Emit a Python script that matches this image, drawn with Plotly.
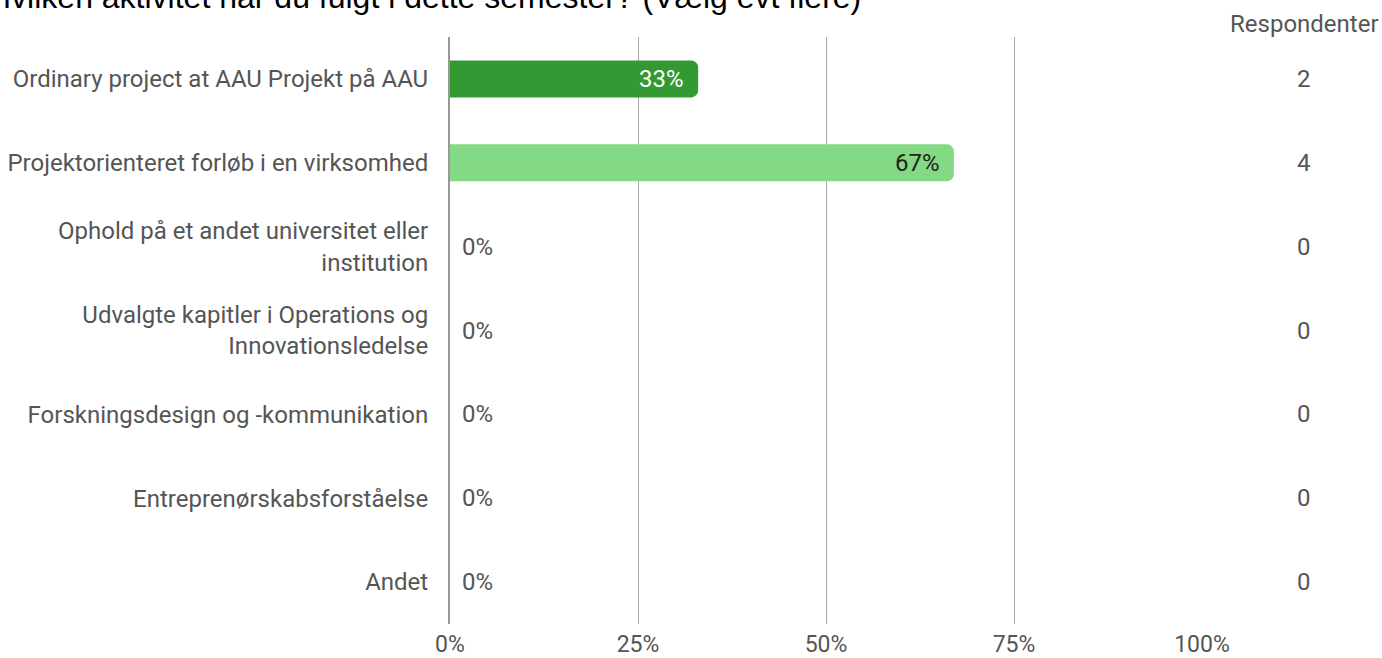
import plotly.graph_objects as go

categories = [
    "Ordinary project at AAU Projekt på AAU",
    "Projektorienteret forløb i en virksomhed",
    "Ophold på et andet universitet eller<br>institution",
    "Udvalgte kapitler i Operations og<br>Innovationsledelse",
    "Forskningsdesign og -kommunikation",
    "Entreprenørskabsforståelse",
    "Andet",
]
percent = [33, 67, 0, 0, 0, 0, 0]
respondents = [2, 4, 0, 0, 0, 0, 0]
bar_colors = ["#339933", "#84d984", "#84d984", "#84d984", "#84d984", "#84d984", "#84d984"]
text_colors = ["#ffffff", "#222222"]
tick_vals = [0, 25, 50, 75, 100]
tick_text = ["0%", "25%", "50%", "75%", "100%"]
title_text = "Hvilken aktivitet har du fulgt i dette semester? (Vælg evt flere)"

W, H = 1382, 658
L, R, T, B = 450, 180, 37, 34
pw = W - L - R
ph = H - T - B
FS = 24
GREY = "#555555"

fig = go.Figure()
fig.add_trace(go.Bar(
    y=categories, x=percent, orientation="h",
    marker=dict(color=bar_colors, line=dict(width=0)),
    width=0.44, hoverinfo="skip",
))

ann = []
for i, (c, p, r) in enumerate(zip(categories, percent, respondents)):
    if p > 0:
        ann.append(dict(x=p, y=c, xref="x", yref="y", text=f"{p}%", showarrow=False,
                        xanchor="right", xshift=-12,
                        font=dict(family="Roboto", size=FS, color=text_colors[i] if i < len(text_colors) else "#222")))
    else:
        ann.append(dict(x=p, y=c, xref="x", yref="y", text=f"{p}%", showarrow=False,
                        xanchor="left", xshift=10,
                        font=dict(family="Roboto", size=FS, color=GREY)))
    ann.append(dict(x=(1304 - L) / pw, y=c, xref="paper", yref="y", text=str(r), showarrow=False,
                    xanchor="center", font=dict(family="Roboto", size=FS, color=GREY)))

ann.append(dict(x=(1304 - L) / pw, y=1 + (T - 24) / ph, xref="paper", yref="paper", text="Respondenter",
                showarrow=False, xanchor="center", yanchor="middle",
                font=dict(family="Roboto", size=FS, color=GREY)))
ann.append(dict(x=(-14 - L) / pw, y=1 + (T + 3) / ph, xref="paper", yref="paper", text=title_text,
                showarrow=False, xanchor="left", yanchor="middle",
                font=dict(family="Liberation Sans, Arial", size=32, color="#000000")))

fig.update_layout(
    width=W, height=H,
    margin=dict(l=L, r=R, t=T, b=B, autoexpand=False),
    paper_bgcolor="white", plot_bgcolor="white",
    showlegend=False,
    barcornerradius=7,
    annotations=ann,
    font=dict(family="Roboto", size=FS, color=GREY),
)
fig.update_xaxes(range=[0, 100], tickvals=tick_vals, ticktext=tick_text,
                 showgrid=True, gridcolor="#aaaaaa", gridwidth=1, zeroline=False,
                 showline=False, ticks="", ticklabelstandoff=4, fixedrange=True,
                 tickfont=dict(family="Roboto", size=23, color=GREY))
fig.update_yaxes(autorange="reversed", showgrid=False, showline=True, linecolor="#999999",
                 linewidth=2, ticks="", ticklabelstandoff=15, fixedrange=True,
                 tickfont=dict(family="Roboto", size=FS, color=GREY))

fig.write_html("out.html", config={"displayModeBar": False},
               post_script="document.body.style.margin='0';document.body.style.overflow='hidden';")
